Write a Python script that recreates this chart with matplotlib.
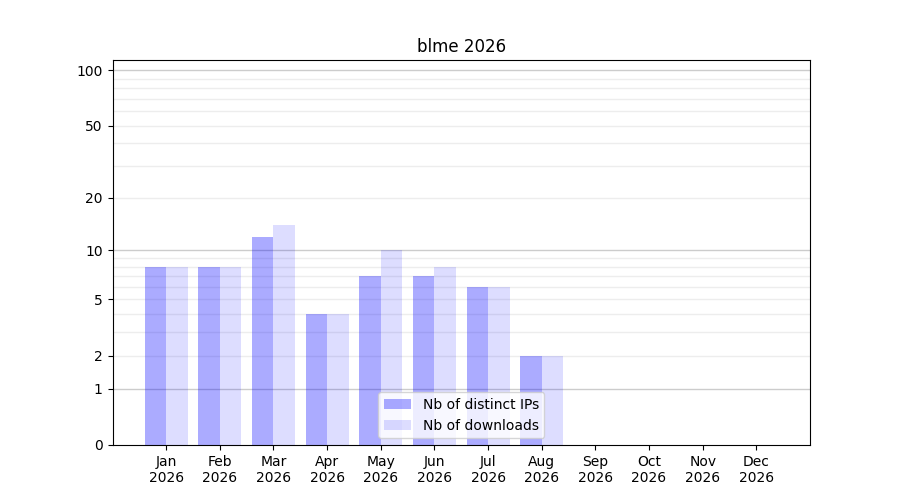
import numpy as np
import matplotlib
matplotlib.use("Agg")
import matplotlib.pyplot as plt

months = ["Jan", "Feb", "Mar", "Apr", "May", "Jun",
          "Jul", "Aug", "Sep", "Oct", "Nov", "Dec"]
year = "2026"
distinct_ips = [8, 8, 12, 4, 7, 7, 6, 2, 0, 0, 0, 0]
downloads = [8, 8, 14, 4, 10, 8, 6, 2, 0, 0, 0, 0]
ytick_values = [0, 1, 2, 5, 10, 20, 50, 100]


def fwd(y):
    return np.log10(np.asarray(y, dtype=float) + 1)


def inv(y):
    return 10 ** np.asarray(y, dtype=float) - 1


fig, ax = plt.subplots(figsize=(9, 5), dpi=100)
ax.set_yscale("function", functions=(fwd, inv))

# grid: decades darker, the rest lighter
for d in [1, 10, 100]:
    ax.axhline(d, color="0.8", linewidth=1, zorder=0)
for d in [10, 100]:
    for k in range(2, 10):
        ax.axhline(k * d / 10, color="0.93", linewidth=1, zorder=0)

x = np.arange(len(months))
w = 0.4
ax.bar(x - w / 2, distinct_ips, w, color="blue", alpha=0.33,
       label="Nb of distinct IPs", zorder=2)
ax.bar(x + w / 2, downloads, w, color="blue", alpha=0.135,
       label="Nb of downloads", zorder=2)

ax.set_xlim(-1, 12)
ax.set_ylim(0, 113.5)
ax.set_xticks(x)
ax.set_xticklabels([m + "\n" + year for m in months])
ax.set_yticks(ytick_values)
ax.set_yticklabels([str(v) for v in ytick_values])
ax.minorticks_off()
ax.set_title("blme 2026")
ax.legend(loc="lower center")

fig.savefig("out.png")
